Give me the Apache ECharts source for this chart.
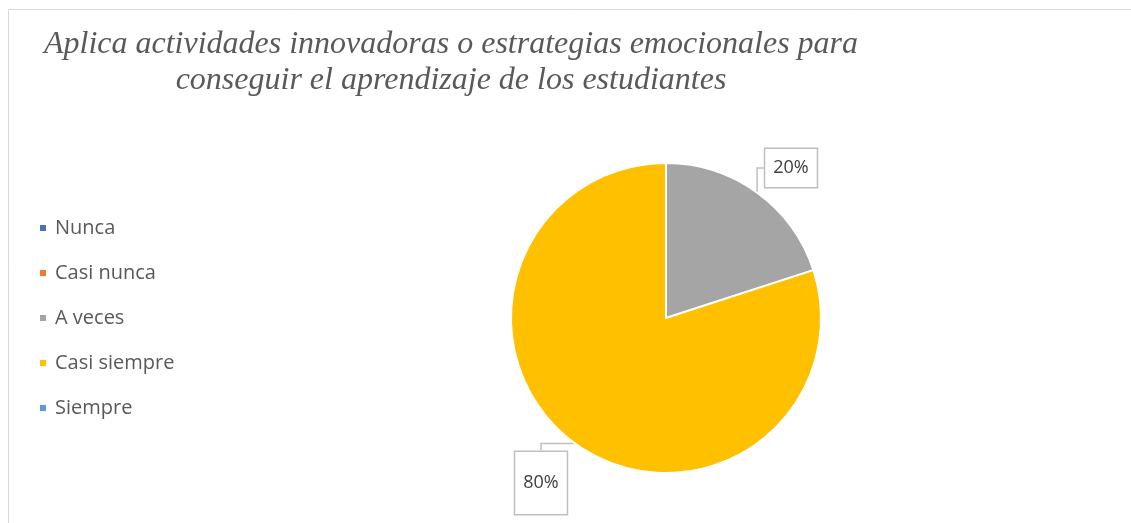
<!DOCTYPE html>
<html>
<head>
<meta charset="utf-8">
<script src="https://cdn.jsdelivr.net/npm/echarts@6/dist/echarts.min.js"></script>
<style>
  html, body { margin: 0; padding: 0; background: #fff; }
  #main { width: 1131px; height: 523px; }
</style>
</head>
<body>
<div id="main"></div>
<script>
// datos del grafico
var categorias = ['Nunca', 'Casi nunca', 'A veces', 'Casi siempre', 'Siempre'];
var valores = [0, 0, 20, 80, 0];
var colores = ['#4472C4', '#ED7D31', '#A5A5A5', '#FFC000', '#5B9BD5'];
var titulo = ['Aplica actividades innovadoras o estrategias emocionales para',
              'conseguir el aprendizaje de los estudiantes'];

// posiciones de las etiquetas (cajas como en excel)
var posEtiquetas = {
    2: { x: 791, y: 168, padding: [10, 8, 10, 8] },
    3: { x: 541, y: 483, padding: [36, 8, 8, 8] }
};

var myChart = echarts.init(document.getElementById('main'), null, { renderer: 'canvas' });

var option = {
    animation: false,
    title: {
        text: titulo.join('\n'),
        left: 446,
        top: 22,
        textAlign: 'center',
        textStyle: {
            fontFamily: 'Liberation Serif',
            fontStyle: 'italic',
            fontWeight: 'normal',
            fontSize: 32,
            lineHeight: 36,
            color: '#595959'
        }
    },
    legend: {
        orient: 'vertical',
        left: 33,
        top: 213,
        itemWidth: 8,
        itemHeight: 8,
        itemGap: 25,
        icon: 'rect',
        data: categorias,
        textStyle: {
            fontFamily: 'Open Sans',
            fontSize: 20,
            lineHeight: 20,
            padding: [0, 0, 0, 3],
            color: '#595959'
        }
    },
    graphic: [
        { type: 'line', shape: { x1: 8.5, y1: 9.5, x2: 1131, y2: 9.5 }, style: { stroke: '#d9d9d9', lineWidth: 1 } },
        { type: 'line', shape: { x1: 8.5, y1: 9.5, x2: 8.5, y2: 523 }, style: { stroke: '#d9d9d9', lineWidth: 1 } }
    ],
    series: [
        {
            type: 'pie',
            center: [666, 318],
            radius: 155,
            startAngle: 90,
            clockwise: true,
            itemStyle: { borderColor: '#fff', borderWidth: 2 },
            label: {
                show: true,
                formatter: function (p) { return p.value > 0 ? p.value + '%' : ''; },
                fontFamily: 'Open Sans',
                fontSize: 18,
                color: '#404040',
                borderColor: '#bfbfbf',
                borderWidth: 1.5,
                backgroundColor: '#fff'
            },
            labelLine: {
                show: true,
                length: 10,
                length2: 10,
                lineStyle: { color: '#bfbfbf', width: 1.5 }
            },
            labelLayout: function (params) {
                var pos = posEtiquetas[params.dataIndex];
                if (!pos) return {};
                return { x: pos.x, y: pos.y, align: 'center', verticalAlign: 'middle' };
            },
            data: categorias.map(function (c, i) {
                var pos = posEtiquetas[i];
                return {
                    name: c,
                    value: valores[i],
                    itemStyle: { color: colores[i] },
                    label: { show: valores[i] > 0, padding: pos ? pos.padding : 0 },
                    labelLine: { show: valores[i] > 0 }
                };
            })
        }
    ]
};

myChart.setOption(option);
window.addEventListener('resize', myChart.resize);
</script>
</body>
</html>
